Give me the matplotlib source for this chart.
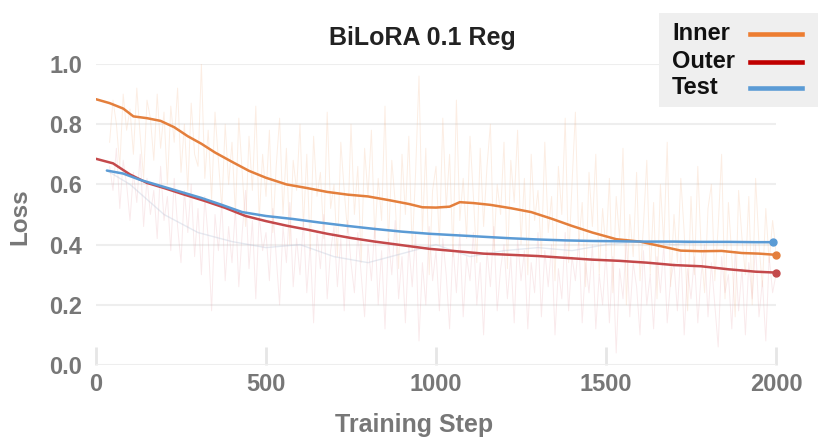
import matplotlib
matplotlib.use("Agg")
import matplotlib.pyplot as plt
from matplotlib.lines import Line2D
from matplotlib.patches import Rectangle

plt.rcParams['font.family'] = ['Liberation Sans', 'DejaVu Sans']

# ---------------- data ----------------
inner_x = [0, 40, 80, 110, 150, 190, 230, 270, 310, 350, 400, 450, 500, 560, 620, 680, 740, 800,
           860, 920, 960, 1000, 1040, 1070, 1110, 1160, 1220, 1280, 1340, 1400, 1460, 1530, 1600,
           1660, 1720, 1780, 1840, 1900, 1950, 2000]
inner_y = [0.883, 0.870, 0.852, 0.826, 0.820, 0.811, 0.790, 0.760, 0.735, 0.706, 0.675, 0.645,
           0.622, 0.600, 0.588, 0.575, 0.566, 0.560, 0.548, 0.535, 0.524, 0.523, 0.526, 0.541,
           0.538, 0.532, 0.521, 0.508, 0.486, 0.462, 0.440, 0.418, 0.410, 0.395, 0.380, 0.378,
           0.379, 0.372, 0.370, 0.366]

outer_x = [0, 50, 100, 150, 200, 260, 320, 380, 440, 500, 560, 620, 680, 750, 820, 900, 980,
           1060, 1140, 1220, 1300, 1380, 1460, 1540, 1620, 1700, 1780, 1860, 1940, 2000]
outer_y = [0.685, 0.670, 0.633, 0.605, 0.588, 0.566, 0.545, 0.522, 0.495, 0.478, 0.463, 0.450,
           0.436, 0.422, 0.410, 0.398, 0.386, 0.378, 0.370, 0.366, 0.362, 0.356, 0.350, 0.346,
           0.340, 0.332, 0.328, 0.318, 0.310, 0.307]

test_x = [32, 80, 130, 190, 250, 310, 370, 430, 500, 580, 660, 740, 820, 900, 980, 1060, 1140,
          1220, 1300, 1380, 1460, 1540, 1620, 1700, 1780, 1860, 1940, 1990]
test_y = [0.646, 0.636, 0.615, 0.595, 0.575, 0.555, 0.532, 0.508, 0.495, 0.485, 0.473, 0.462,
          0.452, 0.443, 0.436, 0.431, 0.426, 0.421, 0.417, 0.414, 0.412, 0.411, 0.410, 0.410,
          0.409, 0.409, 0.408, 0.408]

raw_x = list(range(40, 2001, 10))
inner_raw = [
    0.74, 0.88, 0.80, 0.66, 0.90, 0.78, 0.85,
    0.70, 0.92, 0.76, 0.62, 0.88, 0.82, 0.68, 0.90, 0.72, 0.84,
    0.60, 0.86, 0.74, 0.92, 0.64, 0.80, 0.58, 0.87, 0.70, 0.66,
    1.00, 0.62, 0.78, 0.55, 0.84, 0.68, 0.52, 0.80, 0.60, 0.74,
    0.50, 0.82, 0.64, 0.46, 0.76, 0.58, 0.86, 0.48, 0.70, 0.56,
    0.78, 0.44, 0.66, 0.82, 0.50, 0.72, 0.40, 0.68, 0.58, 0.80,
    0.46, 0.70, 0.38, 0.76, 0.56, 0.64, 0.42, 0.84, 0.52, 0.60,
    0.36, 0.74, 0.58, 0.44, 0.80, 0.50, 0.66, 0.34, 0.72, 0.56,
    0.78, 0.42, 0.62, 0.48, 0.86, 0.40, 0.68, 0.54, 0.32, 0.70,
    0.50, 0.76, 0.38, 0.64, 0.96, 0.44, 0.72, 0.30, 0.58, 0.66,
    0.40, 0.82, 0.52, 0.70, 0.36, 0.88, 0.48, 0.62, 0.42, 0.76,
    0.56, 0.34, 0.72, 0.46, 0.66, 0.80, 0.38, 0.60, 0.50, 0.74,
    0.32, 0.68, 0.54, 0.78, 0.40, 0.62, 0.30, 0.70, 0.48, 0.58,
    0.36, 0.74, 0.44, 0.56, 0.28, 0.66, 0.50, 0.82, 0.34, 0.60,
    0.84, 0.40, 0.54, 0.26, 0.64, 0.46, 0.70, 0.30, 0.52, 0.38,
    0.62, 0.24, 0.56, 0.42, 0.72, 0.20, 0.50, 0.36, 0.64, 0.28,
    0.46, 0.68, 0.30, 0.54, 0.22, 0.60, 0.40, 0.74, 0.26, 0.50,
    0.34, 0.62, 0.44, 0.18, 0.56, 0.30, 0.66, 0.38, 0.24, 0.52,
    0.60, 0.28, 0.46, 0.70, 0.22, 0.54, 0.36, 0.16, 0.58, 0.42,
    0.30, 0.56, 0.20, 0.62, 0.40, 0.26, 0.52, 0.34, 0.48, 0.38]
outer_raw = [
    0.66, 0.58, 0.72, 0.52, 0.68, 0.60, 0.48,
    0.64, 0.54, 0.70, 0.46, 0.62, 0.50, 0.58, 0.42, 0.66, 0.48,
    0.56, 0.38, 0.62, 0.46, 0.34, 0.58, 0.44, 0.60, 0.36, 0.52,
    0.30, 0.56, 0.42, 0.18, 0.50, 0.38, 0.54, 0.28, 0.46, 0.34,
    0.52, 0.26, 0.44, 0.58, 0.32, 0.48, 0.22, 0.50, 0.38, 0.44,
    0.28, 0.52, 0.36, 0.20, 0.46, 0.34, 0.54, 0.26, 0.42, 0.30,
    0.48, 0.24, 0.40, 0.14, 0.44, 0.32, 0.50, 0.22, 0.38, 0.46,
    0.26, 0.42, 0.18, 0.48, 0.34, 0.24, 0.44, 0.30, 0.16, 0.40,
    0.28, 0.46, 0.20, 0.38, 0.12, 0.42, 0.30, 0.48, 0.22, 0.36,
    0.14, 0.40, 0.26, 0.44, 0.08, 0.34, 0.20, 0.46, 0.28, 0.38,
    0.18, 0.42, 0.30, 0.12, 0.40, 0.24, 0.44, 0.16, 0.36, 0.28,
    0.44, 0.20, 0.34, 0.10, 0.38, 0.26, 0.46, 0.18, 0.32, 0.40,
    0.22, 0.36, 0.14, 0.42, 0.28, 0.38, 0.12, 0.34, 0.24, 0.44,
    0.16, 0.38, 0.26, 0.40, 0.10, 0.32, 0.22, 0.44, 0.18, 0.36,
    0.28, 0.42, 0.14, 0.34, 0.24, 0.40, 0.12, 0.30, 0.20, 0.38,
    0.14, 0.36, 0.04, 0.32, 0.22, 0.42, 0.16, 0.34, 0.26, 0.10,
    0.38, 0.20, 0.30, 0.12, 0.36, 0.24, 0.40, 0.14, 0.28, 0.34,
    0.18, 0.38, 0.10, 0.32, 0.22, 0.36, 0.14, 0.30, 0.40, 0.16,
    0.34, 0.20, 0.06, 0.36, 0.24, 0.30, 0.12, 0.38, 0.18, 0.32,
    0.10, 0.34, 0.22, 0.40, 0.16, 0.28, 0.08, 0.36, 0.24, 0.30]
test_raw_x = [32, 100, 200, 300, 400, 500, 600, 700, 800, 900, 1000, 1100, 1200, 1300, 1400,
              1500, 1600, 1700, 1800, 1900, 1990]
test_raw = [0.646, 0.60, 0.50, 0.44, 0.41, 0.39, 0.40, 0.36, 0.34, 0.37, 0.40, 0.36, 0.38, 0.39,
            0.38, 0.40, 0.41, 0.40, 0.41, 0.41, 0.41]

x_ticks = [0, 500, 1000, 1500, 2000]
y_ticks = [0.0, 0.2, 0.4, 0.6, 0.8, 1.0]
series_names = ['Inner', 'Outer', 'Test']
series_colors = ['#ED7D31', '#C00000', '#5B9BD5']
line_colors = ['#E47F3C', '#C4494B', '#5B9BD5']

# ---------------- figure ----------------
W, H = 831, 443
fig = plt.figure(figsize=(W / 100, H / 100), dpi=100)
ax = fig.add_axes([96 / W, 1 - 365 / H, (776 - 96) / W, (365 - 64) / H])

ax.plot(raw_x, inner_raw, color='#F4B183', alpha=0.22, lw=0.7, zorder=1)
ax.plot(raw_x, outer_raw, color='#E8A0A8', alpha=0.22, lw=0.7, zorder=1)
ax.plot(test_raw_x, test_raw, color='#B8C4D8', alpha=0.35, lw=1.0, zorder=1)

for xs, ys, c in [(inner_x, inner_y, line_colors[0]),
                  (outer_x, outer_y, line_colors[1]),
                  (test_x, test_y, line_colors[2])]:
    ax.plot(xs, ys, color=c, lw=1.8, zorder=3, solid_capstyle='round')
    ax.plot([xs[-1]], [ys[-1]], 'o', color=c, ms=5, zorder=4, clip_on=False)

ax.set_xlim(0, 2000)
ax.set_ylim(0, 1.0)
for s in ax.spines.values():
    s.set_visible(False)
ax.set_yticks(y_ticks)
ax.set_xticks(x_ticks)
ax.set_yticklabels([f'{v:.1f}' for v in y_ticks])
ax.set_xticklabels([str(v) for v in x_ticks])
ax.yaxis.grid(True, color='#EEEEEE', lw=1.5)
ax.set_axisbelow(True)
ax.axhline(0, color='#E6E6E6', lw=2, zorder=0)
ax.tick_params(axis='y', length=0, pad=10, labelsize=17, labelcolor='#777777')
ax.tick_params(axis='x', direction='in', length=13, width=2, color='#E6E6E6',
               pad=6, labelsize=17, labelcolor='#777777')
for lab in ax.get_xticklabels() + ax.get_yticklabels():
    lab.set_fontweight('bold')

fig.text(20 / W, 1 - 217 / H, 'Loss', rotation=90, ha='center', va='center',
         fontsize=17.5, fontweight='bold', color='#777777')
fig.text(414 / W, 1 - 425 / H, 'Training Step', ha='center', va='center',
         fontsize=18, fontweight='bold', color='#777777')
fig.text(422 / W, 1 - 38 / H, 'BiLoRA 0.1 Reg', ha='center', va='center',
         fontsize=18, fontweight='bold', color='#222222')

# legend box (drawn in figure pixel coordinates)
fig.patches.append(Rectangle((659 / W, 1 - 107 / H), (818 - 659) / W, (107 - 13) / H,
                             transform=fig.transFigure, facecolor='#EFEFEF',
                             edgecolor='none', zorder=5))
legend_y = [34, 62, 88]
for name, c, yy in zip(series_names, series_colors, legend_y):
    fig.text(672 / W, 1 - yy / H, name, ha='left', va='center', fontsize=17,
             fontweight='bold', color='#111111', zorder=6)
    fig.add_artist(Line2D([750 / W, 802 / W], [1 - yy / H, 1 - yy / H], color=c, lw=3.3,
                          transform=fig.transFigure, zorder=6))

fig.savefig('out.png', dpi=100)
